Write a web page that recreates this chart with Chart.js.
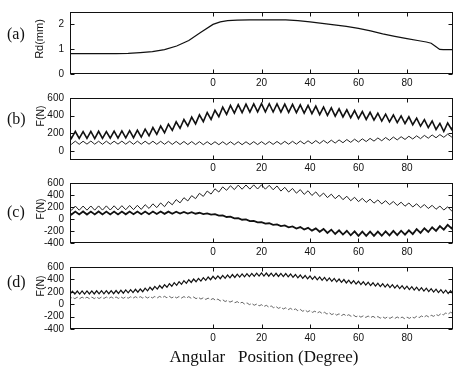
<!DOCTYPE html>
<html><head><meta charset="utf-8">
<script src="https://cdn.jsdelivr.net/npm/chart.js@4"></script>
<style>
html,body{margin:0;padding:0;background:#fff;}
#wrap{position:relative;width:454px;height:370px;overflow:hidden;background:#fff;}
.pane{position:absolute;left:0;width:454px;}
.lab{position:absolute;font-family:'Liberation Serif','Times New Roman',serif;font-size:16px;line-height:16px;color:#111;white-space:pre;}
.yt{position:absolute;font-family:'Liberation Sans',Arial,sans-serif;color:#111;white-space:nowrap;line-height:1;transform:translate(-50%,-50%) rotate(-90deg);}
#xt{position:absolute;left:264px;top:348px;transform:translateX(-50%);font-family:'Liberation Serif','Times New Roman',serif;font-size:17px;line-height:17px;color:#111;white-space:pre;}
</style></head>
<body>
<div id="wrap">
  <div class="pane" style="top:0px;height:92px"><canvas id="ca" width="454" height="92"></canvas></div>
  <div class="pane" style="top:86px;height:92px"><canvas id="cb" width="454" height="92"></canvas></div>
  <div class="pane" style="top:171px;height:90px"><canvas id="cc" width="454" height="90"></canvas></div>
  <div class="pane" style="top:255px;height:92px"><canvas id="cd" width="454" height="92"></canvas></div>
  <div class="lab" id="la" style="left:7px;top:26px"></div>
  <div class="lab" id="lb" style="left:7px;top:111px"></div>
  <div class="lab" id="lc" style="left:7px;top:204px"></div>
  <div class="lab" id="ld" style="left:7px;top:274px"></div>
  <div class="yt" id="ya" style="left:39px;top:39px;font-size:11px"></div>
  <div class="yt" id="yb" style="left:40px;top:116px;font-size:10.5px"></div>
  <div class="yt" id="yc" style="left:40px;top:209px;font-size:10.5px"></div>
  <div class="yt" id="yd" style="left:40px;top:286px;font-size:10.5px"></div>
  <div id="xt"></div>
</div>
<script>
// ---------- data ----------
const panelLetters = ['(a)', '(b)', '(c)', '(d)'];
const yTitles = ['Rd(mm)', 'F(N)', 'F(N)', 'F(N)'];
const xAxisTitle = 'Angular   Position (Degree)';
const xTickValues = [0, 20, 40, 60, 80];
const rdTicks = [0, 1, 2];
const fTicksB = [0, 200, 400, 600];
const fTicksCD = [-400, -200, 0, 200, 400, 600];

const rdAngles = [-60,-50,-40,-35,-30,-25,-20,-15,-10,-5,0,3,6,10,15,20,25,30,35,40,45,50,55,60,65,70,75,80,85,88,90,92,93.5,95,100];
const rdValues = [0.82,0.82,0.82,0.83,0.86,0.9,0.98,1.13,1.35,1.68,2.0,2.1,2.15,2.17,2.18,2.18,2.18,2.18,2.15,2.1,2.04,1.98,1.92,1.84,1.74,1.62,1.52,1.43,1.34,1.29,1.24,1.1,0.99,0.98,0.98];

const anglesBC = [-60,-58.4,-56.8,-55.2,-53.6,-52,-50.4,-48.8,-47.2,-45.6,
 -44,-42.4,-40.8,-39.2,-37.6,-36,-34.4,-32.8,-31.2,-29.6,
 -28,-26.4,-24.8,-23.2,-21.6,-20,-18.4,-16.8,-15.2,-13.6,
 -12,-10.4,-8.8,-7.2,-5.6,-4,-2.4,-0.8,0.8,2.4,
 4,5.6,7.2,8.8,10.4,12,13.6,15.2,16.8,18.4,
 20,21.6,23.2,24.8,26.4,28,29.6,31.2,32.8,34.4,
 36,37.6,39.2,40.8,42.4,44,45.6,47.2,48.8,50.4,
 52,53.6,55.2,56.8,58.4,60,61.6,63.2,64.8,66.4,
 68,69.6,71.2,72.8,74.4,76,77.6,79.2,80.8,82.4,
 84,85.6,87.2,88.8,90.4,92,93.6,95.2,96.8,98.4,
 100];

const bUpper = [225,144,222,145,220,143,222,142,224,144,
 221,146,226,147,228,150,232,152,236,158,
 248,174,266,190,283,208,305,234,331,258,
 357,284,384,308,410,333,436,358,462,388,
 497,415,516,430,526,436,530,440,534,443,
 536,444,535,442,533,440,531,438,527,434,
 522,429,516,423,508,413,498,404,488,395,
 478,386,467,377,458,368,447,358,438,350,
 428,340,418,331,408,322,398,312,388,298,
 372,282,356,266,340,244,314,222,318,245,
 335];

const bLower = [112,78,113,77,112,79,114,78,112,77,
 113,78,112,79,113,78,112,77,113,78,
 112,78,112,77,111,77,111,76,110,75,
 109,74,108,74,107,73,106,73,106,73,
 106,73,106,73,106,73,106,74,107,74,
 107,75,108,76,109,77,110,78,111,79,
 114,82,117,84,119,86,121,89,124,91,
 127,95,131,99,135,103,139,108,144,113,
 149,117,154,122,159,127,163,132,168,137,
 173,141,178,146,183,151,187,156,192,161,
 197];

const cUpper = [215,145,216,146,216,147,217,147,218,148,
 219,149,220,151,222,154,225,156,228,160,
 239,176,253,190,268,205,291,237,323,269,
 355,301,389,339,428,377,466,415,503,449,
 535,478,554,490,565,496,567,498,569,500,
 570,497,562,487,551,465,528,449,509,430,
 490,410,471,392,452,374,432,357,414,339,
 397,322,379,304,362,290,344,277,331,264,
 318,251,305,239,292,226,280,213,267,200,
 254,188,241,175,228,162,216,149,203,136,
 190];

const cLower = [125,75,124,76,125,75,124,76,125,76,
 124,76,124,77,124,78,124,79,125,80,
 125,81,125,83,124,86,123,88,121,90,
 119,91,114,88,104,81,94,74,82,55,
 60,33,38,10,15,-12,-7,-34,-30,-57,
 -52,-78,-71,-97,-89,-118,-108,-139,-124,-158,
 -135,-175,-148,-194,-157,-213,-166,-232,-178,-250,
 -188,-259,-196,-271,-206,-280,-210,-280,-210,-280,
 -210,-279,-206,-273,-199,-268,-195,-261,-188,-251,
 -170,-232,-154,-216,-138,-198,-118,-177,-97,-156,
 -75];

const anglesD = [-60,-59,-58,-57,-56,-55,-54,-53,-52,-51,
 -50,-49,-48,-47,-46,-45,-44,-43,-42,-41,
 -40,-39,-38,-37,-36,-35,-34,-33,-32,-31,
 -30,-29,-28,-27,-26,-25,-24,-23,-22,-21,
 -20,-19,-18,-17,-16,-15,-14,-13,-12,-11,
 -10,-9,-8,-7,-6,-5,-4,-3,-2,-1,
 0,1,2,3,4,5,6,7,8,9,
 10,11,12,13,14,15,16,17,18,19,
 20,21,22,23,24,25,26,27,28,29,
 30,31,32,33,34,35,36,37,38,39,
 40,41,42,43,44,45,46,47,48,49,
 50,51,52,53,54,55,56,57,58,59,
 60,61,62,63,64,65,66,67,68,69,
 70,71,72,73,74,75,76,77,78,79,
 80,81,82,83,84,85,86,87,88,89,
 90,91,92,93,94,95,96,97,98,99,
 100];

const dUpper = [210,161,211,162,212,163,213,164,214,165,
 215,166,216,167,217,168,218,169,219,170,
 220,173,225,178,230,183,235,188,240,193,
 245,202,259,216,273,230,287,244,301,258,
 315,273,331,289,347,305,363,321,379,337,
 395,351,406,362,417,373,428,384,439,395,
 450,404,457,411,464,418,471,425,478,432,
 485,437,489,441,493,445,497,449,501,453,
 505,454,503,452,501,450,499,448,497,446,
 495,441,487,433,479,425,471,417,463,409,
 455,401,447,393,439,385,431,377,423,369,
 415,361,406,352,397,343,388,334,379,325,
 370,316,362,308,354,300,346,292,338,284,
 330,276,322,268,314,260,306,252,298,244,
 290,236,282,228,274,220,266,212,258,204,
 250,196,242,188,234,180,226,172,218,164,
 210];

const dLower = [112,88,113,89,113,89,114,90,114,90,
 115,90,115,91,116,92,116,92,117,93,
 117,94,118,95,119,96,120,97,121,98,
 122,99,123,100,124,101,125,102,126,103,
 127,103,126,102,125,101,124,100,123,99,
 122,95,116,89,110,83,104,77,98,71,
 92,63,82,53,72,43,62,33,52,23,
 42,13,32,3,22,-7,12,-17,2,-27,
 -8,-37,-18,-47,-28,-57,-38,-67,-48,-77,
 -58,-87,-67,-96,-76,-105,-85,-114,-94,-123,
 -103,-132,-112,-141,-121,-150,-130,-159,-139,-168,
 -148,-176,-155,-183,-162,-190,-169,-197,-176,-204,
 -183,-209,-187,-213,-191,-217,-195,-221,-199,-225,
 -203,-228,-204,-229,-205,-230,-206,-231,-207,-232,
 -208,-229,-202,-223,-196,-217,-190,-211,-184,-205,
 -178,-196,-166,-184,-154,-172,-142,-160,-130,-148,
 -118];

// ---------- text ----------
['la','lb','lc','ld'].forEach((id,i)=>document.getElementById(id).textContent = panelLetters[i]);
['ya','yb','yc','yd'].forEach((id,i)=>document.getElementById(id).textContent = yTitles[i]);
document.getElementById('xt').textContent = xAxisTitle;

// ---------- chart ----------
Chart.defaults.font.family = "'Liberation Sans', Arial, sans-serif";
Chart.defaults.font.size = 10;
Chart.defaults.color = '#111';

const frame = {
  id: 'frame',
  afterDatasetsDraw(chart) {
    const {ctx, chartArea: a, scales} = chart;
    ctx.save();
    ctx.strokeStyle = '#111';
    ctx.lineWidth = 1;
    const L = Math.round(a.left) + 0.5, R = Math.round(a.right) - 0.5;
    const T = Math.round(a.top) + 0.5, B = Math.round(a.bottom) - 0.5;
    ctx.strokeRect(L, T, R - L, B - T);
    ctx.beginPath();
    scales.x.ticks.forEach(t => {
      const px = Math.round(scales.x.getPixelForValue(t.value)) + 0.5;
      ctx.moveTo(px, B); ctx.lineTo(px, B - 4);
      ctx.moveTo(px, T); ctx.lineTo(px, T + 4);
    });
    scales.y.ticks.forEach(t => {
      const py = Math.round(scales.y.getPixelForValue(t.value)) + 0.5;
      ctx.moveTo(L, py); ctx.lineTo(L + 4, py);
      ctx.moveTo(R, py); ctx.lineTo(R - 4, py);
    });
    ctx.stroke();
    ctx.restore();
  }
};

function pts(xs, ys) { return xs.map((x, i) => ({x: x, y: ys[i]})); }

function makePanel(id, padTop, xPad, yMin, yMax, yTicks, datasets) {
  return new Chart(document.getElementById(id), {
    type: 'line',
    data: {datasets: datasets},
    plugins: [frame],
    options: {
      responsive: false,
      animation: false,
      devicePixelRatio: 1,
      events: [],
      layout: {padding: {left: 0, right: 1, top: padTop, bottom: 0}},
      plugins: {legend: {display: false}, tooltip: {enabled: false}},
      elements: {point: {radius: 0}, line: {tension: 0}},
      scales: {
        x: {
          type: 'linear', min: -59, max: 99,
          afterBuildTicks: s => { s.ticks = xTickValues.map(v => ({value: v})); },
          afterFit: s => { s.height = 18; },
          grid: {display: false, drawTicks: false},
          border: {display: false},
          ticks: {padding: xPad, maxRotation: 0, autoSkip: false, callback: v => String(v)}
        },
        y: {
          type: 'linear', min: yMin, max: yMax,
          afterBuildTicks: s => { s.ticks = yTicks.map(v => ({value: v})); },
          afterFit: s => { s.width = 70; },
          grid: {display: false, drawTicks: false},
          border: {display: false},
          ticks: {padding: 6, autoSkip: false, callback: v => String(v)}
        }
      }
    }
  });
}

makePanel('ca', 11, 3, 0, 2.5, rdTicks, [
  {data: pts(rdAngles, rdValues), borderColor: '#111', borderWidth: 1.2, fill: false}
]);
makePanel('cb', 10, 2, -100, 600, fTicksB, [
  {data: pts(anglesBC, bUpper), borderColor: '#111', borderWidth: 1.6, fill: false},
  {data: pts(anglesBC, bLower), borderColor: '#222', borderWidth: 1, fill: false}
]);
makePanel('cc', 10, 3, -400, 600, fTicksCD, [
  {data: pts(anglesBC, cUpper), borderColor: '#222', borderWidth: 1, fill: false},
  {data: pts(anglesBC, cLower), borderColor: '#111', borderWidth: 1.8, fill: false}
]);
makePanel('cd', 10, 3, -400, 600, fTicksCD, [
  {data: pts(anglesD, dUpper), borderColor: '#111', borderWidth: 1.2, fill: false},
  {data: pts(anglesD, dLower), borderColor: '#555', borderWidth: 0.9, borderDash: [5, 2], fill: false}
]);
</script>
</body></html>
